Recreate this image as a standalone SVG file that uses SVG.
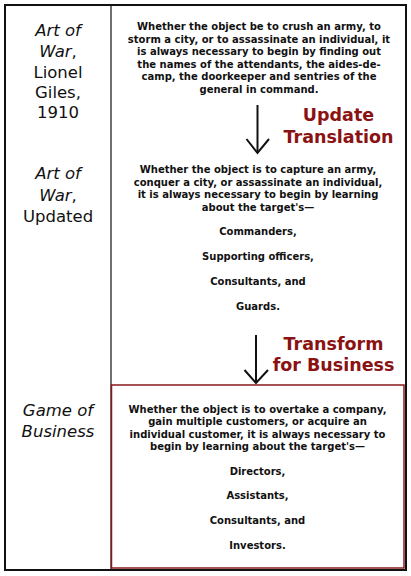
<svg xmlns="http://www.w3.org/2000/svg" width="411" height="576" viewBox="0 0 411 576">
  <style>
    .label { font-family: "DejaVu Sans", Verdana, sans-serif; font-size: 16.5px; fill: #111; text-anchor: middle; }
    .label .it { font-style: italic; }
    .body { font-family: "DejaVu Sans", Verdana, sans-serif; font-size: 10px; font-weight: bold; fill: #111; text-anchor: middle; }
    .step { font-family: "DejaVu Sans", Verdana, sans-serif; font-size: 17.5px; font-weight: bold; fill: #8a1212; text-anchor: middle; }
    .conn { fill: none; stroke: #111; stroke-width: 2; }
  </style>
  <rect x="0" y="0" width="411" height="576" fill="#fff"/>

  <!-- frame and column divider -->
  <g id="frame">
    <rect x="5" y="5" width="401" height="565" fill="none" stroke="#111" stroke-width="2"/>
    <line x1="111" y1="5" x2="111" y2="570" stroke="#111" stroke-width="1.2"/>
  </g>

  <!-- row labels -->
  <g id="label-giles" class="label">
    <text x="58" y="36"><tspan class="it">Art of</tspan></text>
    <text x="58" y="57"><tspan class="it">War</tspan>,</text>
    <text x="58" y="78">Lionel</text>
    <text x="58" y="98">Giles,</text>
    <text x="58" y="118">1910</text>
  </g>
  <g id="label-updated" class="label">
    <text x="58" y="179"><tspan class="it">Art of</tspan></text>
    <text x="58" y="200.5"><tspan class="it">War</tspan>,</text>
    <text x="58" y="221.5">Updated</text>
  </g>
  <g id="label-business" class="label">
    <text x="58" y="416"><tspan class="it">Game of</tspan></text>
    <text x="58" y="437"><tspan class="it">Business</tspan></text>
  </g>

  <!-- passages -->
  <g id="passage-giles" class="body">
    <text x="259" y="30">Whether the object be to crush an army, to</text>
    <text x="259" y="42.5">storm a city, or to assassinate an individual, it</text>
    <text x="259" y="55">is always necessary to begin by finding out</text>
    <text x="259" y="67.5">the names of the attendants, the aides-de-</text>
    <text x="259" y="80">camp, the doorkeeper and sentries of the</text>
    <text x="259" y="92.5">general in command.</text>
  </g>
  <g id="passage-updated" class="body">
    <text x="258" y="173">Whether the object is to capture an army,</text>
    <text x="258" y="185.5">conquer a city, or assassinate an individual,</text>
    <text x="258" y="198">it is always necessary to begin by learning</text>
    <text x="258" y="210.5">about the target's—</text>
    <text x="258" y="235">Commanders,</text>
    <text x="258" y="260">Supporting officers,</text>
    <text x="258" y="285">Consultants, and</text>
    <text x="258" y="309.5">Guards.</text>
  </g>
  <g id="passage-business">
    <rect x="111.5" y="385" width="292.5" height="183" fill="none" stroke="#8a1a1a" stroke-width="1.5"/>
    <g class="body">
      <text x="257.5" y="412.5">Whether the object is to overtake a company,</text>
      <text x="257.5" y="425">gain multiple customers, or acquire an</text>
      <text x="257.5" y="437.5">individual customer, it is always necessary to</text>
      <text x="257.5" y="450">begin by learning about the target's—</text>
      <text x="257.5" y="474.5">Directors,</text>
      <text x="257.5" y="499">Assistants,</text>
      <text x="257.5" y="524">Consultants, and</text>
      <text x="257.5" y="549">Investors.</text>
    </g>
  </g>

  <!-- step captions -->
  <g id="step-translation" class="step">
    <text x="338.5" y="121">Update</text>
    <text x="338.5" y="143">Translation</text>
  </g>
  <g id="step-business" class="step">
    <text x="333.5" y="350">Transform</text>
    <text x="333.5" y="370.5">for Business</text>
  </g>

  <!-- connectors -->
  <g id="connectors" class="conn">
    <line x1="257.5" y1="105" x2="257.5" y2="153"/>
    <polyline points="246.5,139 257.5,153 269,139"/>
    <line x1="256" y1="335" x2="256" y2="383"/>
    <polyline points="244.5,370 256,383 268,370"/>
  </g>
</svg>
